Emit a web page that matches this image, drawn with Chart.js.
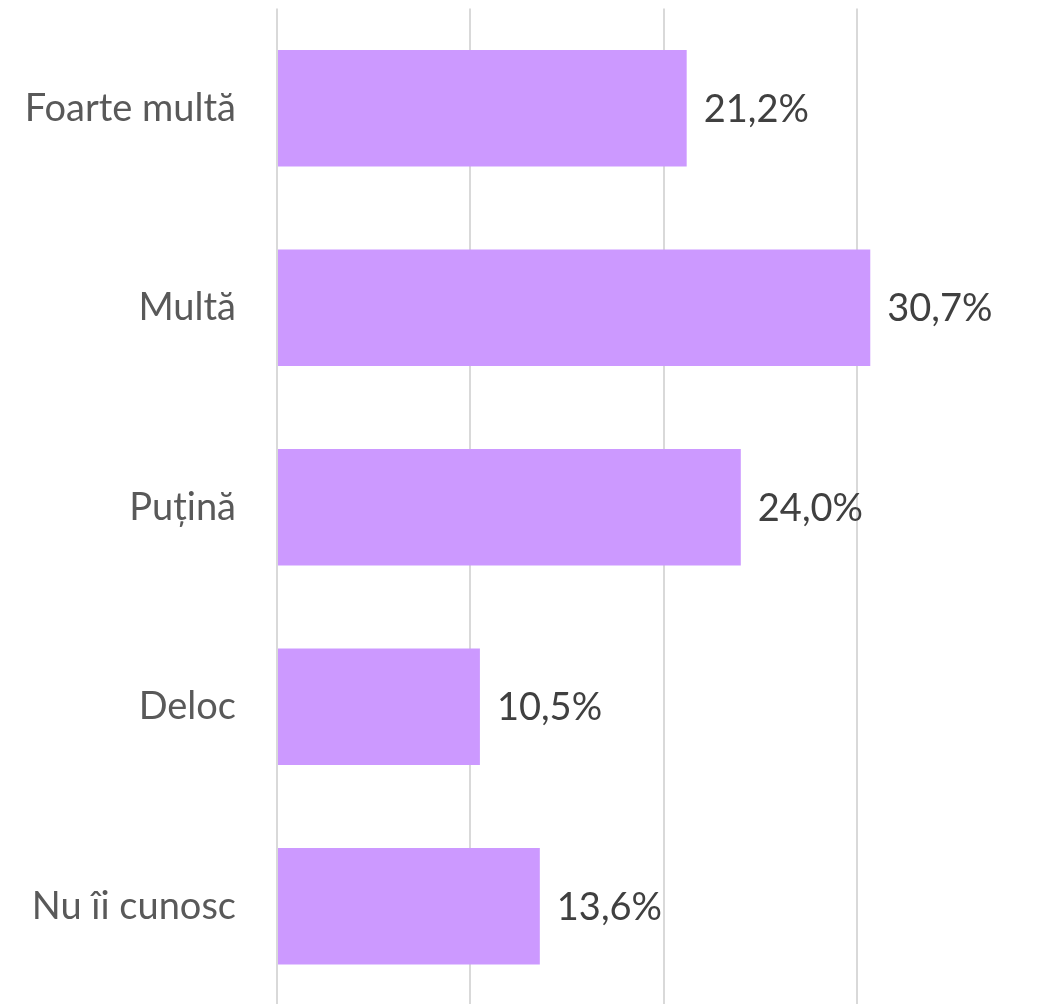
<!DOCTYPE html>
<html>
<head>
<meta charset="utf-8">
<script src="https://cdn.jsdelivr.net/npm/chart.js@4/dist/chart.umd.min.js"></script>
<style>
html,body{margin:0;padding:0;background:#fff;overflow:hidden;}
#wrap{position:relative;width:1050px;height:1006px;}
</style>
</head>
<body>
<div id="wrap"><canvas id="c"></canvas></div>
<script>
const categories = ["Foarte multă", "Multă", "Puțină", "Deloc", "Nu îi cunosc"];
const values = [21.2, 30.7, 24.0, 10.5, 13.6];
const xTicks = [0, 10, 20, 30, 40];

const FONT = "Lato, 'Open Sans', sans-serif";

const valueLabels = {
  id: 'valueLabels',
  afterDatasetsDraw(chart) {
    const ctx = chart.ctx;
    const meta = chart.getDatasetMeta(0);
    ctx.save();
    ctx.font = "38px " + FONT;
    ctx.fillStyle = "#404040";
    ctx.textAlign = "left";
    ctx.textBaseline = "middle";
    meta.data.forEach((bar, i) => {
      const txt = values[i].toFixed(1).replace('.', ',') + '%';
      ctx.fillText(txt, bar.x + 17, bar.y + 1);
    });
    ctx.restore();
  }
};

new Chart(document.getElementById('c'), {
  type: 'bar',
  data: {
    labels: categories,
    datasets: [{
      data: values,
      backgroundColor: '#CC99FF',
      borderWidth: 0,
      categoryPercentage: 1.0,
      barPercentage: 0.584
    }]
  },
  options: {
    indexAxis: 'y',
    responsive: true,
    maintainAspectRatio: false,
    animation: false,
    layout: { padding: { top: 8.5, left: 0, right: 0, bottom: 0 } },
    plugins: { legend: { display: false }, tooltip: { enabled: false } },
    scales: {
      x: {
        min: xTicks[0],
        max: xTicks[xTicks.length - 1],
        afterBuildTicks(scale) { scale.ticks = xTicks.map(v => ({ value: v })); },
        ticks: { display: false },
        grid: { color: '#D9D9D9', lineWidth: 2, drawTicks: false },
        border: { display: false },
        afterFit(scale) { scale.height = 0; scale.paddingLeft = 0; scale.paddingRight = 0; }
      },
      y: {
        ticks: {
          color: '#595959',
          font: { family: FONT, size: 38 },
          padding: 41
        },
        grid: { display: false, drawTicks: false },
        border: { display: false },
        afterFit(scale) { scale.width = 277; scale.paddingTop = 0; scale.paddingBottom = 0; }
      }
    }
  },
  plugins: [valueLabels]
});
</script>
</body>
</html>
